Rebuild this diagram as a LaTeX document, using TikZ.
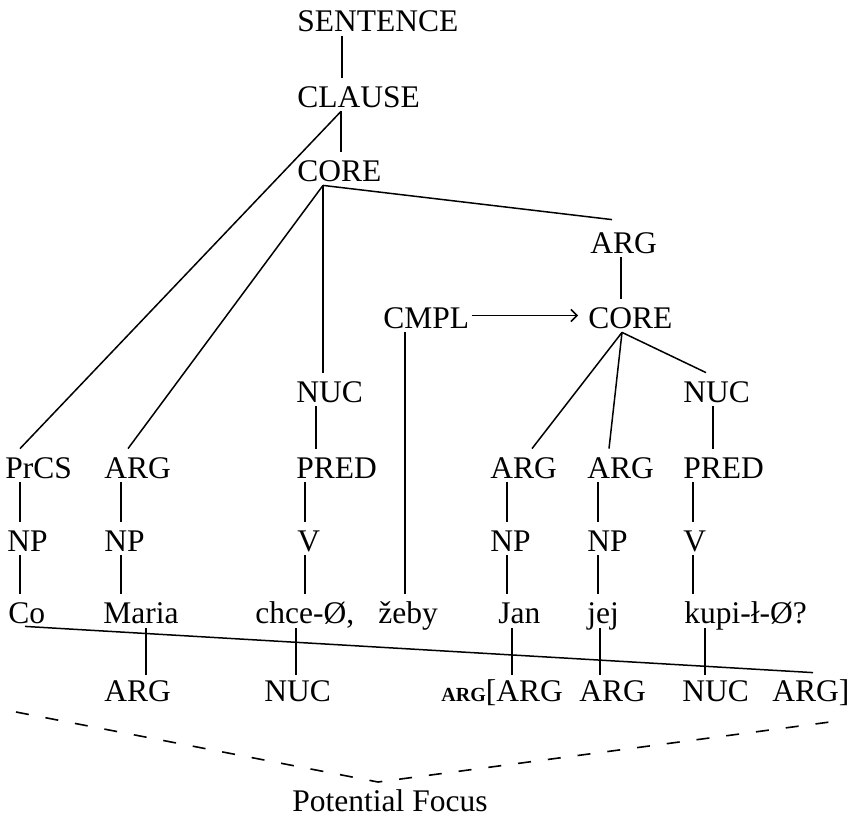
\documentclass[tikz,border=0pt]{standalone}
\usepackage{fontspec}
\setmainfont{Liberation Serif}
\usetikzlibrary{arrows.meta,calc}
\begin{document}
\begin{tikzpicture}[x=0.5pt,y=-0.5pt,
  every node/.style={font=\fontsize{15.75pt}{18pt}\selectfont, inner sep=0pt, anchor=base west},
  lab/.style={text height=14.5pt, text depth=2pt},
  word/.style={text height=14.5pt, text depth=2.5pt},
  blab/.style={text height=13pt, text depth=0pt},
  edge/.style={line width=0.75pt},
  focus/.style={line width=0.8pt, dash pattern=on 6.5pt off 8.5pt},
]
\useasboundingbox (0,0) rectangle (850,819);
% tree labels
\node[lab] (sent)   at (297,32)  {SENTENCE};
\node[lab] (clause) at (297,107) {CLAUSE};
\node[lab] (core1)  at (297,181) {CORE};
\node[lab] (arg1)   at (590,253) {ARG};
\node[lab] (cmpl)   at (383,328) {CMPL};
\node[lab] (core2)  at (588,328) {CORE};
\node[lab] (nuc1)   at (296,402) {NUC};
\node[lab] (nuc2)   at (683,402) {NUC};
\node[lab] (prcs)   at (5,478)   {PrCS};
\node[lab] (arga)   at (104,478) {ARG};
\node[lab] (pred1)  at (296,478) {PRED};
\node[lab] (argb)   at (490,478) {ARG};
\node[lab] (argc)   at (587,478) {ARG};
\node[lab] (pred2)  at (683,478) {PRED};
\node[lab] (np1)    at (7,551)   {NP};
\node[lab] (np2)    at (104,551) {NP};
\node[lab] (v1)     at (297,551) {V};
\node[lab] (np3)    at (490,551) {NP};
\node[lab] (np4)    at (587,551) {NP};
\node[lab] (v2)     at (683,551) {V};
% words
\node[word] (co)    at (8,623)   {Co};
\node[word] (maria) at (103,623) {Maria};
\node[word] (chce)  at (255,623) {chce-Ø,};
\node[word] (zeby)  at (378,623) {žeby};
\node[word] (jan)   at (498,623) {Jan};
\node[word] (jej)   at (587,623) {jej};
\node[word] (kupi)  at (684,623) {kupi-ł-Ø?};
% bottom labels
\node[blab] (barga) at (104,701) {ARG};
\node[blab] (bnuca) at (264,701) {NUC};
\node[blab] (bargb) at (441,701) {{\fontsize{10pt}{11pt}\selectfont\bfseries ARG}[ARG};
\node[blab] (bargc) at (579,701) {ARG};
\node[blab] (bnucb) at (682,701) {NUC};
\node[blab] (bargd) at (772,701) {ARG]};
\node (pf) at (292,811) {Potential Focus};
% connectors
\draw[edge] (sent.south -| 342,0) -- (clause.north -| 342,0);
\draw[edge] (clause.south -| 341,0) -- (core1.north -| 341,0);
\draw[edge] (clause.south -| 341,0) -- (prcs.north -| 20,0);
\draw[edge] (core1.south -| 323,0) -- (arga.north -| 128,0);
\draw[edge] (core1.south -| 323,0) -- (nuc1.north -| 323,0);
\draw[edge] (core1.south -| 323,0) -- ([yshift=2pt]arg1.north -| 612,0);
\draw[edge] (arg1.south -| 621,0) -- (core2.north -| 621,0);
\draw[edge,-{Straight Barb[length=3pt,width=6pt]}] ([xshift=1pt]cmpl.east) -- ([xshift=-5pt]core2.west);
\draw[edge] (cmpl.south -| 405,0) -- (zeby.north -| 405,0);
\draw[edge] (core2.south -| 622,0) -- (argb.north -| 532,0);
\draw[edge] (core2.south -| 622,0) -- (argc.north -| 609,0);
\draw[edge] (core2.south -| 622,0) -- (nuc2.north -| 706,0);
\draw[edge] (nuc1.south -| 316,0) -- (pred1.north -| 316,0);
\draw[edge] (pred1.south -| 305,0) -- (v1.north -| 305,0);
\draw[edge] (v1.south -| 305,0) -- (chce.north -| 305,0);
\draw[edge] (nuc2.south -| 713,0) -- (pred2.north -| 713,0);
\draw[edge] (pred2.south -| 693,0) -- (v2.north -| 693,0);
\draw[edge] (v2.south -| 693,0) -- (kupi.north -| 693,0);
\draw[edge] (prcs.south -| 20,0) -- (np1.north -| 20,0);
\draw[edge] (np1.south -| 20,0) -- (co.north -| 20,0);
\draw[edge] (arga.south -| 121,0) -- (np2.north -| 121,0);
\draw[edge] (np2.south -| 121,0) -- (maria.north -| 121,0);
\draw[edge] (argb.south -| 507,0) -- (np3.north -| 507,0);
\draw[edge] (np3.south -| 507,0) -- (jan.north -| 507,0);
\draw[edge] (argc.south -| 598,0) -- (np4.north -| 598,0);
\draw[edge] (np4.south -| 598,0) -- (jej.north -| 598,0);
% focus-domain line and crossings
\draw[edge] ([yshift=1pt]co.south -| 25,0) -- ([yshift=1pt]bargd.north -| 813,0);
\draw[edge] (maria.south -| 146,0) -- (barga.north -| 146,0);
\draw[edge] (chce.south -| 296,0) -- (bnuca.north -| 296,0);
\draw[edge] (jan.south -| 512,0) -- (bargb.north -| 512,0);
\draw[edge] (jej.south -| 600,0) -- (bargc.north -| 600,0);
\draw[edge] (kupi.south -| 705,0) -- (bnucb.north -| 705,0);
% potential focus
\coordinate (fl) at (16,712);
\coordinate (fm) at (378,782);
\coordinate (fr) at (845,720);
\draw[focus] (fl) -- (fm) -- (fr);
\end{tikzpicture}
\end{document}
